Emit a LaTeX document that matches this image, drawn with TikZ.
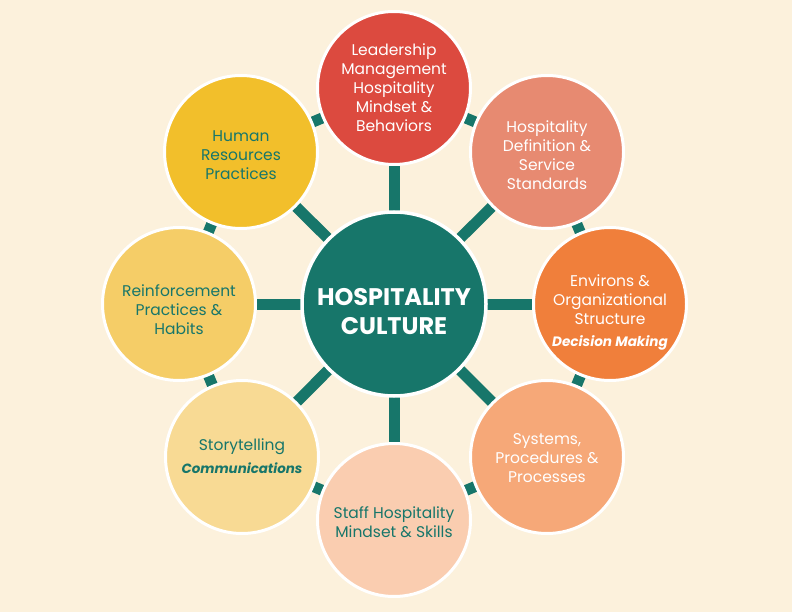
\documentclass[tikz,border=0pt]{standalone}
\usepackage{fontspec}
\setmainfont{Poppins}
\usetikzlibrary{backgrounds}
\definecolor{bgc}{HTML}{FCF1DC}
\definecolor{teal}{HTML}{17766A}
\definecolor{cA}{HTML}{DC4A3F}
\definecolor{cB}{HTML}{E78A71}
\definecolor{cC}{HTML}{F07F3B}
\definecolor{cD}{HTML}{F6A878}
\definecolor{cE}{HTML}{FACDB0}
\definecolor{cF}{HTML}{F8DA94}
\definecolor{cG}{HTML}{F5CD67}
\definecolor{cH}{HTML}{F2BF2B}
\tikzset{
  outer/.style={circle, draw=white, line width=3pt, minimum size=153pt, inner sep=0pt},
  hub/.style={circle, draw=white, line width=3.5pt, minimum size=184pt, inner sep=0pt, fill=teal},
  txt/.style={align=center, inner sep=0pt, font=\fontsize{15.5}{19}\selectfont},
  hubtxt/.style={align=center, inner sep=0pt, text=white, font=\fontsize{24}{29}\selectfont\bfseries},
  bar/.style={draw=teal, line width=11pt},
  wtxt/.style={txt, text=white},
  ttxt/.style={txt, text=teal}
}
\begin{document}
\begin{tikzpicture}[x=1pt,y=-1pt]
\useasboundingbox (0,0) rectangle (792,612);
\node[hub] (C) at (394,304) {};
\node[outer, fill=cA] (n1) at (394,88) {};
\node[outer, fill=cB] (n2) at (547,152) {};
\node[outer, fill=cC] (n3) at (610,304) {};
\node[outer, fill=cD] (n4) at (547,457) {};
\node[outer, fill=cE] (n5) at (394,520) {};
\node[outer, fill=cF] (n6) at (242,457) {};
\node[outer, fill=cG] (n7) at (179,304) {};
\node[outer, fill=cH] (n8) at (241,152) {};
\node[hubtxt] (tC) at ([yshift=-8pt]C.center) {HOSPITALITY\\CULTURE};
\node[wtxt] (t1) at (n1.center) {Leadership\\Management\\Hospitality\\Mindset \&\\Behaviors};
\node[wtxt] (t2) at ([yshift=-3pt]n2.center) {Hospitality\\Definition \&\\Service\\Standards};
\node[wtxt] (t3) at ([yshift=-8pt]n3.center) {Environs \&\\Organizational\\Structure\\[3pt]{\fontsize{13.6}{19}\selectfont\itshape\bfseries Decision Making}};
\node[wtxt] (t4) at ([yshift=-1pt]n4.center) {Systems,\\Procedures \&\\Processes};
\node[ttxt] (t5) at ([yshift=-2pt]n5.center) {Staff Hospitality\\Mindset \& Skills};
\node[ttxt] (t6) at ([yshift=1pt]n6.center) {Storytelling\\[4pt]{\fontsize{13.4}{19}\selectfont\itshape\bfseries Communications}};
\node[ttxt] (t7) at ([yshift=-6pt]n7.center) {Reinforcement\\Practices \&\\Habits};
\node[ttxt] (t8) at ([yshift=-3pt]n8.center) {Human\\Resources\\Practices};
\begin{pgfonlayer}{background}
\fill[bgc] (0,0) rectangle (792,612);
\foreach \i in {1,...,8} {\draw[bar] (C.center) -- (n\i.center);}
\draw[bar] (n1.center) -- (n2.center);
\draw[bar] (n2.center) -- (n3.center);
\draw[bar] (n3.center) -- (n4.center);
\draw[bar] (n4.center) -- (n5.center);
\draw[bar] (n5.center) -- (n6.center);
\draw[bar] (n6.center) -- (n7.center);
\draw[bar] (n7.center) -- (n8.center);
\draw[bar] (n8.center) -- (n1.center);
\end{pgfonlayer}
\end{tikzpicture}
\end{document}
